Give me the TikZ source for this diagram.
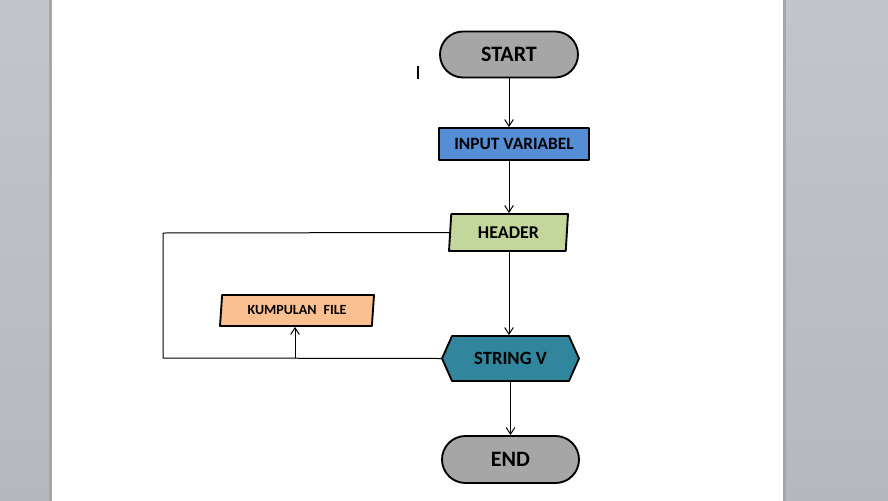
\documentclass[tikz,border=0pt]{standalone}
\usepackage{fontspec}
\setmainfont{Carlito}
\usetikzlibrary{shapes.geometric,shapes.misc,shapes.symbols,arrows.meta}
\definecolor{panel}{HTML}{C5C8CD}
\definecolor{greybox}{HTML}{A6A6A6}
\definecolor{bluebox}{HTML}{558ED5}
\definecolor{greenbox}{HTML}{C3D69B}
\definecolor{orangebox}{HTML}{FAC090}
\definecolor{tealbox}{HTML}{31859C}
\begin{document}
\begin{tikzpicture}[x=0.75pt, y=-0.75pt, line join=round, >={Straight Barb[length=5pt,width=6.5pt]}]
		\tikzset{box/.style={draw=black, line width=1.4pt, inner sep=0pt, font=\bfseries},
			terminal/.style={box, rounded rectangle, fill=greybox, minimum width=103.5pt, minimum height=34.5pt, font=\bfseries\fontsize{16.5}{19}\selectfont},
			iobox/.style={box, trapezium, trapezium stretches body, trapezium left angle=79, trapezium right angle=101},
			flow/.style={line width=0.75pt}}
		\useasboundingbox (0,0) rectangle (888,500);
		\shade[top color=panel!105, bottom color=panel!92!black] (0,0) rectangle (888,500);
		\fill[white] (52,-2) rectangle (783,502);
		\fill[black!35] (49,-2) rectangle (52,502);
		\fill[black!35] (783,-2) rectangle (786,502);
		\draw[line width=1.5pt] (418,66)--(418,79);
		\node[terminal] (start) at (509,54.5) {START};
		\node[box, rectangle, fill=bluebox, minimum width=112.5pt, minimum height=24pt, font=\bfseries\fontsize{13}{15}\selectfont] (input) at (514,144) {INPUT VARIABEL};
		\node[iobox, fill=greenbox, minimum width=89.25pt, minimum height=27.75pt, font=\bfseries\fontsize{13.5}{15}\selectfont] (header) at (508.5,232.5) {HEADER};
		\node[iobox, fill=orangebox, trapezium left angle=77, trapezium right angle=103, minimum width=115.5pt, minimum height=23.25pt, font=\bfseries\fontsize{10.5}{12}\selectfont] (kumpulan) at (297,310.5) {KUMPULAN\enspace FILE};
		\node[box, signal, signal to=west and east, signal pointer angle=132, fill=tealbox, minimum width=102.75pt, minimum height=33.75pt, font=\bfseries\fontsize{14}{16}\selectfont] (string) at (510.5,358.5) {STRING V};
		\node[terminal, minimum width=102.75pt, minimum height=35.25pt] (end) at (510.5,459.5) {END};
		\coordinate (loopup) at (163,233);
		\coordinate (loopdown) at (163,358);
		\coordinate (fileup) at (295,358);
		\draw[flow,->] (start.south) -- (start.south |- input.north);
		\draw[flow,->] (input.south -| start.south) -- (start.south |- header.north);
		\draw[flow,->] (header.south -| start.south) -- (start.south |- string.north);
		\draw[flow,->] (string.south) -- (end.north);
		\draw[flow] (header.west) -- (loopup) -- (loopdown) -- (string.west);
		\draw[flow,->] (fileup) -- (fileup |- kumpulan.south);
\end{tikzpicture}
\end{document}
